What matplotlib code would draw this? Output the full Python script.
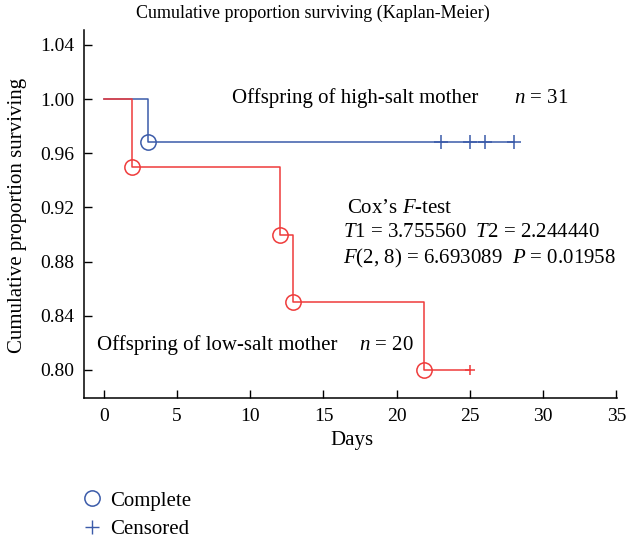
import matplotlib
matplotlib.use('Agg')
import matplotlib.pyplot as plt
from matplotlib.lines import Line2D

plt.rcParams['font.family'] = ['Liberation Serif', 'DejaVu Serif']
plt.rcParams['mathtext.fontset'] = 'custom'
plt.rcParams['mathtext.rm'] = 'Liberation Serif'
plt.rcParams['mathtext.it'] = 'Liberation Serif:italic'

# Kaplan-Meier step data
high_times = [0, 3.0, 28.0]
high_surv = [1.00, 0.968, 0.968]
high_events = [3.0]
high_event_surv = [0.968]
high_censored = [23, 25, 26, 28]

low_times = [0, 1.9, 12.0, 12.9, 21.9, 25.0]
low_surv = [1.00, 0.95, 0.90, 0.85, 0.80, 0.80]
low_events = [1.9, 12.0, 12.9, 21.9]
low_event_surv = [0.95, 0.90, 0.85, 0.80]
low_censored = [25]
low_censored_surv = [0.80]

x_ticks = [0, 5, 10, 15, 20, 25, 30, 35]
y_ticks = [0.80, 0.84, 0.88, 0.92, 0.96, 1.00, 1.04]

BLUE = '#3b5ba9'
RED = '#ef3b3b'
FS = 15       # annotations / axis labels
FS_TICK = 14
FS_TITLE = 13

fig = plt.figure(figsize=(6.26, 5.39), dpi=100)
ax = fig.add_axes([0.1342, 0.2616, 0.8514, 0.683])

ax.step(high_times, high_surv, where='post', color=BLUE, lw=1.1)
ax.plot(high_events, high_event_surv, 'o', ms=11, mfc='none', mec=BLUE, mew=1.1)
ax.plot(high_censored, [high_surv[-1]] * len(high_censored), '+', ms=10,
        color=BLUE, mew=1.1)

ax.step(low_times, low_surv, where='post', color=RED, lw=1.1)
ax.plot(low_events, low_event_surv, 'o', ms=11, mfc='none', mec=RED, mew=1.1)
ax.plot(low_censored, low_censored_surv, '+', ms=7, color=RED, mew=1.1)

ax.set_xlim(-1.36, 35.05)
ax.set_ylim(0.7793, 1.0511)
ax.set_xticks(x_ticks)
ax.set_yticks(y_ticks)
ax.set_yticklabels([f'{v:.2f}' for v in y_ticks])
ax.tick_params(direction='in', length=6, width=1, labelsize=FS_TICK, pad=7)
for s in ['top', 'right']:
    ax.spines[s].set_visible(False)
for s in ['left', 'bottom']:
    ax.spines[s].set_linewidth(1.1)

# annotations
ax.text(8.73, 1.0007, 'Offspring of high-salt mother', fontsize=FS, va='center')
ax.text(28.0, 1.0007, '$n$ = 31', fontsize=FS, va='center')
ax.text(16.6, 0.9195, 'Cox\u2019s $F$-test', fontsize=FS, va='center')
ax.text(16.36, 0.9018, '$T$1 = 3.755560  $T$2 = 2.244440', fontsize=FS, va='center')
ax.text(16.36, 0.8826, '$F$(2, 8) = 6.693089  $P$ = 0.01958', fontsize=FS, va='center')
ax.text(-0.48, 0.8183, 'Offspring of low-salt mother', fontsize=FS, va='center')
ax.text(17.4, 0.8183, '$n$ = 20', fontsize=FS, va='center')

fig.text(313 / 626, 1 - 13 / 539, 'Cumulative proportion surviving (Kaplan-Meier)',
         fontsize=FS_TITLE, ha='center', va='center')
fig.text(18 / 626, 1 - 215 / 539, 'Cumulative proportion surviving',
         fontsize=FS, ha='center', va='center', rotation=90)
fig.text(352 / 626, 1 - 440 / 539, 'Days', fontsize=FS, ha='center', va='center')

handles = [Line2D([], [], marker='o', ls='none', ms=11, mfc='none', mec=BLUE, mew=1.1),
           Line2D([], [], marker='+', ls='none', ms=10, color=BLUE, mew=1.0)]
fig.legend(handles, ['Complete', 'Censored'], loc='center left',
           bbox_to_anchor=(71 / 626, 1 - 515 / 539), frameon=False,
           fontsize=FS, handlelength=1.2, handletextpad=0.3, labelspacing=0.42,
           borderaxespad=0)

fig.savefig('out.png', dpi=100)
